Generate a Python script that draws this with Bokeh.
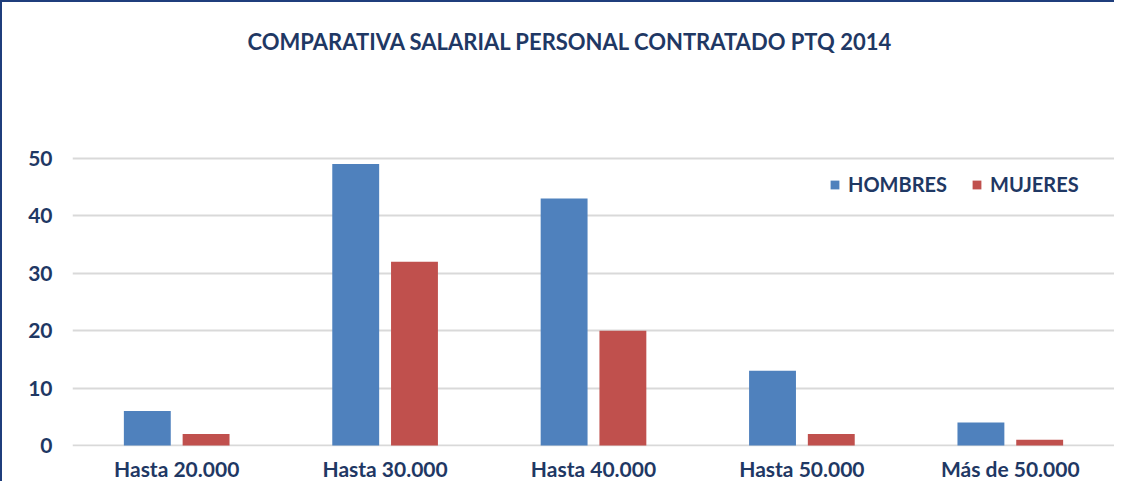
from bokeh.plotting import figure
from bokeh.models import (FactorRange, Range1d, FixedTicker, Legend, LegendItem,
                          Title, ColumnDataSource)
from bokeh.transform import dodge
from bokeh.embed import file_html
from bokeh.resources import INLINE

categories = ["Hasta 20.000", "Hasta 30.000", "Hasta 40.000", "Hasta 50.000", "Más de 50.000"]
hombres = [6, 49, 43, 13, 4]
mujeres = [2, 32, 20, 2, 1]
y_ticks = [0, 10, 20, 30, 40, 50]
title_text = "COMPARATIVA SALARIAL PERSONAL CONTRATADO PTQ 2014"

NAVY = "#1F3864"
BLUE = "#4F81BD"
RED = "#C0504D"
FONT = "Lato"

src = ColumnDataSource(dict(cat=categories, h=hombres, m=mujeres))

p = figure(x_range=FactorRange(*categories, range_padding=0),
           y_range=Range1d(-0.17, 64.6),
           width=1114, height=481,
           output_backend="svg", toolbar_location=None,
           min_border_left=70, min_border_right=2,
           min_border_top=72, min_border_bottom=37)
p.styles = {"border-top": "2px solid #1F3E7C", "border-left": "2px solid #1F3E7C"}

p.add_layout(Title(text=title_text, align="left", offset=175, standoff=40,
                   text_font=FONT, text_font_style="bold", text_font_size="22px",
                   text_color=NAVY), "above")

r1 = p.vbar(x=dodge("cat", -0.141, range=p.x_range), top="h", width=0.225,
            source=src, fill_color=BLUE, line_color=None)
r2 = p.vbar(x=dodge("cat", 0.141, range=p.x_range), top="m", width=0.225,
            source=src, fill_color=RED, line_color=None)

p.outline_line_color = None
p.xgrid.grid_line_color = None
p.ygrid.grid_line_color = "#D9D9D9"
p.ygrid.grid_line_width = 2
p.yaxis.ticker = FixedTicker(ticks=y_ticks)

for ax in (p.xaxis, p.yaxis):
    ax.axis_line_color = None
    ax.major_tick_line_color = None
    ax.minor_tick_line_color = None
    ax.major_tick_out = 0
    ax.major_tick_in = 0
    ax.minor_tick_out = 0
    ax.major_label_text_font = FONT
    ax.major_label_text_font_style = "bold"
    ax.major_label_text_font_size = "21px"
    ax.major_label_text_color = NAVY
p.yaxis.major_label_standoff = 20
p.xaxis.major_label_standoff = 9

legend = Legend(items=[LegendItem(label="HOMBRES", renderers=[r1]),
                       LegendItem(label="MUJERES", renderers=[r2])],
                orientation="horizontal", location=(757, 250),
                border_line_color=None, background_fill_alpha=0,
                label_text_font=FONT, label_text_font_style="bold",
                label_text_font_size="20px", label_text_color=NAVY,
                glyph_width=11, glyph_height=11, label_standoff=8,
                spacing=24, padding=0, margin=0)
p.add_layout(legend)

open("out.html", "w").write(file_html(p, INLINE))
